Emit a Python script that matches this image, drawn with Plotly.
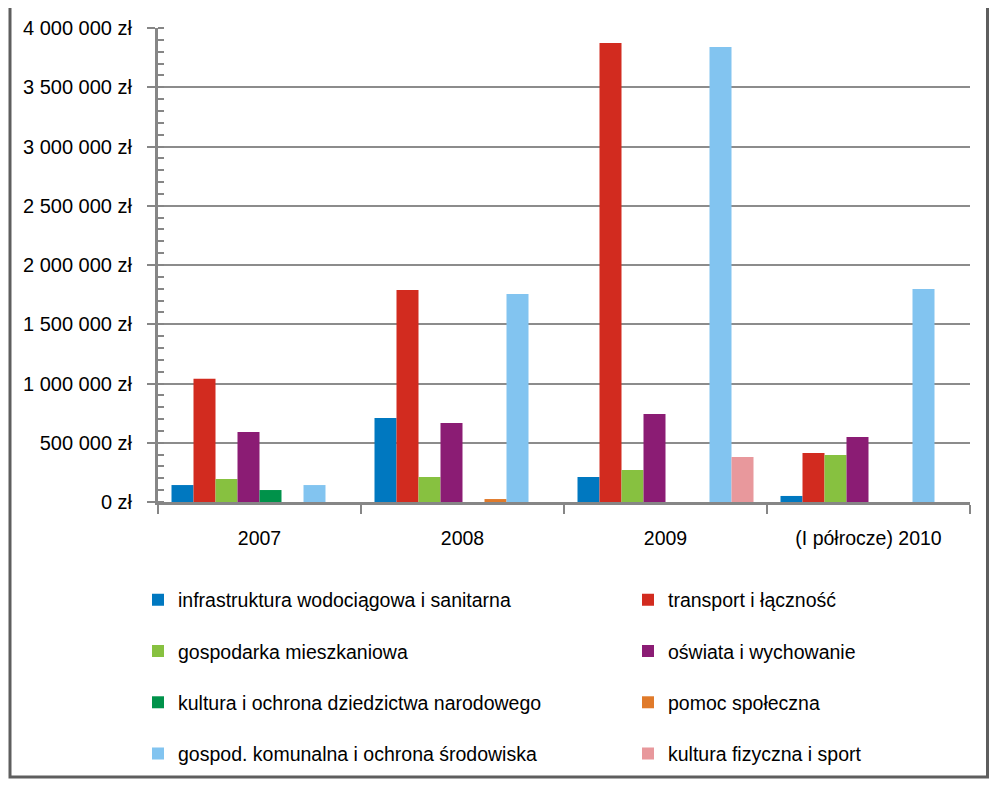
import plotly.graph_objects as go

categories = ["2007", "2008", "2009", "(I półrocze) 2010"]

series_names = [
    "infrastruktura wodociągowa i sanitarna",
    "transport i łączność",
    "gospodarka mieszkaniowa",
    "oświata i wychowanie",
    "kultura i ochrona dziedzictwa narodowego",
    "pomoc społeczna",
    "gospod. komunalna i ochrona środowiska",
    "kultura fizyczna i sport",
]

infrastruktura = [143000, 709000, 211000, 51000]
transport = [1040000, 1789000, 3873000, 413000]
gospodarka = [194000, 211000, 270000, 397000]
oswiata = [591000, 667000, 743000, 549000]
kultura = [101000, 0, 0, 0]
pomoc = [0, 25000, 0, 0]
komunalna = [143000, 1755000, 3840000, 1797000]
sport = [0, 0, 380000, 0]

series_values = [infrastruktura, transport, gospodarka, oswiata, kultura, pomoc, komunalna, sport]

colors = ["#0078C0", "#D22B1F", "#87C140", "#8B1C74", "#00924A", "#E07A2A", "#82C4F0", "#E8989C"]

tick_values = [0, 500000, 1000000, 1500000, 2000000, 2500000, 3000000, 3500000, 4000000]
tick_labels = [f"{v:,}".replace(",", " ") + " zł" for v in tick_values]

FONT = "Liberation Sans, Arial, sans-serif"
OFF = 8  # page body margin offset
W, H = 998 - OFF, 787 - 2 * OFF
ML, MT = 158 - OFF, 28 - OFF
MR = W - (970 - OFF)
MB = H - (502 - OFF)
PW, PH = W - ML - MR, H - MT - MB


def px_to_paper_x(px):
    return (px - OFF - ML) / PW


def px_to_paper_y(py):
    return (H - MB - (py - OFF)) / PH


fig = go.Figure()
legend_layouts = {}
for i, (name, vals, col) in enumerate(zip(series_names, series_values, colors)):
    lname = "legend" if i == 0 else f"legend{i + 1}"
    fig.add_trace(go.Bar(
        x=categories, y=vals, name=name, marker=dict(color=col, line=dict(width=0)),
        legend=lname,
    ))
    colidx, row = i % 2, i // 2
    text_x = 178 if colidx == 0 else 668
    row_y = 600 + row * 51.3
    legend_layouts[lname] = dict(
        x=px_to_paper_x(text_x - 40), xanchor="left",
        y=px_to_paper_y(row_y), yanchor="middle",
        orientation="h", bgcolor="rgba(0,0,0,0)",
        font=dict(family=FONT, size=19.5, color="#000000"),
        itemwidth=30,
    )

fig.update_layout(
    width=W, height=H,
    margin=dict(l=ML, r=MR, t=MT, b=MB, pad=0, autoexpand=False),
    paper_bgcolor="white", plot_bgcolor="white",
    barmode="group", bargap=0.133, bargroupgap=0,
    font=dict(family=FONT, size=19, color="#000000"),
    showlegend=True,
    **legend_layouts,
)

fig.update_yaxes(
    range=[0, 4000000],
    tickmode="array", tickvals=tick_values, ticktext=tick_labels,
    showgrid=True, gridcolor="#8C8C8C", gridwidth=2,
    showline=True, linecolor="#868686", linewidth=3,
    ticks="outside", ticklen=8, tickcolor="#868686", tickwidth=2,
    ticklabelstandoff=11,
    minor=dict(dtick=100000, tick0=0, ticks="inside", ticklen=6, tickcolor="#868686",
               tickwidth=2, showgrid=False),
    tickfont=dict(family=FONT, size=20, color="#000000"),
    zeroline=False,
)

fig.update_xaxes(
    type="category", tickson="boundaries",
    showline=True, linecolor="#868686", linewidth=3,
    ticks="outside", ticklen=9, tickcolor="#868686", tickwidth=2,
    ticklabelstandoff=17,
    showgrid=False,
    tickfont=dict(family=FONT, size=19.5, color="#000000"),
)

# outer frame (kept inside the figure's visible area)
fig.add_shape(
    type="rect", xref="paper", yref="paper",
    x0=px_to_paper_x(OFF + 2), x1=px_to_paper_x(987.5),
    y0=px_to_paper_y(OFF + H - 2), y1=px_to_paper_y(-20),
    line=dict(color="#5E5E5E", width=3), fillcolor="rgba(0,0,0,0)", layer="above",
)

fig.write_html("out.html")
